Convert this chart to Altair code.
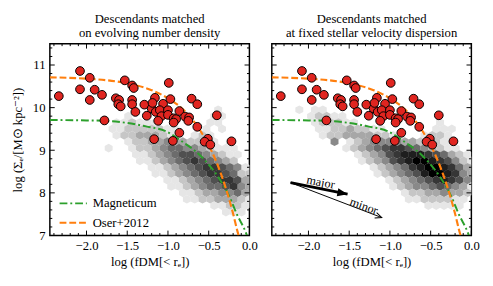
import altair as alt
import pandas as pd

SERIF = "'Liberation Serif', 'Times New Roman', Times, serif"

# ---------------- data ----------------
X_DOMAIN = [-2.45, 0.0]
Y_DOMAIN = [7.0, 11.5]

x_major = [-2.0, -1.5, -1.0, -0.5, 0.0]
x_minor = [-2.4, -2.3, -2.2, -2.1, -1.9, -1.8, -1.7, -1.6, -1.4, -1.3, -1.2, -1.1,
           -0.9, -0.8, -0.7, -0.6, -0.4, -0.3, -0.2, -0.1]
y_major = [7, 8, 9, 10, 11]
y_minor = [7.2, 7.4, 7.6, 7.8, 8.2, 8.4, 8.6, 8.8, 9.2, 9.4, 9.6, 9.8,
           10.2, 10.4, 10.6, 10.8, 11.2, 11.4]

# observed galaxies (red circles, identical in both panels)
obs_x = [-2.34, -2.08, -2.08, -1.96, -1.96, -1.90, -1.81, -1.78, -1.64, -1.60,
         -1.61, -1.58, -1.53, -1.44, -1.42, -1.44, -1.44, -1.40, -1.29, -1.26,
         -1.20, -1.16, -1.19, -1.06, -0.97, -1.15, -1.10, -1.00, -1.08, -1.00,
         -1.12, -0.93, -0.90, -0.93, -0.86, -0.79, -0.74, -0.71, -0.64, -0.75,
         -0.64, -0.86, -1.17, -0.94, -0.51, -0.55, -0.48, -0.40, -0.22, -0.99]
obs_y = [10.27, 10.86, 10.43, 10.70, 10.18, 10.42, 10.30, 9.70, 10.22, 10.18,
         10.08, 10.03, 10.64, 10.52, 10.46, 10.18, 10.08, 9.90, 10.07, 9.81,
         9.98, 10.23, 10.11, 10.09, 10.20, 9.90, 9.94, 9.94, 9.80, 9.83,
         9.69, 9.75, 9.73, 9.65, 9.92, 9.79, 9.77, 10.21, 10.08, 9.69,
         9.55, 9.41, 9.26, 9.22, 9.27, 9.20, 9.13, 9.82, 9.21, 10.58]

# model curves
mag_x = [-2.45, -2.0, -1.75, -1.5, -1.27, -1.03, -0.8, -0.67, -0.55, -0.39, -0.25, -0.15, -0.05, -0.02]
mag_y = [9.71, 9.70, 9.69, 9.64, 9.56, 9.45, 9.17, 8.99, 8.77, 8.39, 7.93, 7.48, 7.10, 6.95]
oser_x = [-2.45, -2.0, -1.5, -1.2, -1.0, -0.8, -0.6, -0.5, -0.4, -0.3, -0.2, -0.15, -0.12, -0.09]
oser_y = [10.71, 10.68, 10.57, 10.41, 10.22, 9.93, 9.45, 9.12, 8.70, 8.17, 7.51, 7.12, 6.91, 6.70]

legend_names = ["Magneticum", "Oser+2012"]

# hexbin density: one string per hex row (top row first), one digit per column
HEX_X0, HEX_DX, HEX_YTOP, HEX_DY = -2.208, 0.096, 9.95, 0.15
hex_left = [
    "000000000000000000010000",
    "000000010000000000110000",
    "000000112111000000110000",
    "000001122222110001010000",
    "000000122333211012100000",
    "000000012233433221101000",
    "000001001223455443211100",
    "000000001123456654321100",
    "000000000112345676543200",
    "000000000011234567765411",
    "000000000001123456776522",
    "000000000000112345677632",
    "000000000000011234556743",
    "000000000000001123344532",
    "000000000000000112233321",
    "000000000000000000112211",
    "000000000000000000001110",
]
hex_right = [
    "010110000000000000000000",
    "001221100000000000000000",
    "000122211000000000010000",
    "000112232211000000111000",
    "000012233332211001221000",
    "000004012344443322211000",
    "000000012345677654321100",
    "000000001234678887653210",
    "000000000123467899876421",
    "000000000012345789987532",
    "000000000001234568998743",
    "000000000000123456787642",
    "000000000000012344565431",
    "000000000000001223343321",
    "000000000000000112222110",
    "000000000000000001111100",
    "000000000000000000000000",
]

# arrows in the right panel
arrow_names = ["major", "minor"]
arrow_x0 = [-2.22, -2.22]
arrow_y0 = [8.24, 8.24]
arrow_x1 = [-1.52, -1.10]
arrow_y1 = [7.97, 7.42]
arrow_angle = [11, 20]
arrow_label_x = [-1.85, -1.32]
arrow_label_y = [8.25, 7.69]

# ---------------- chart ----------------
W, H = 205, 197
XTITLE = "log (fDM[< rₑ])"
YTITLE = "log (Σₑ/[M⊙ kpc⁻²])"

xs = alt.Scale(domain=X_DOMAIN, nice=False, zero=False)
ys = alt.Scale(domain=Y_DOMAIN, nice=False, zero=False)

xaxis = alt.Axis(values=x_major, format=".1f", ticks=False, domain=False, grid=False,
                 labelFont=SERIF, labelFontSize=13, labelColor="black", labelPadding=4,
                 labelFlush=False, title=XTITLE, titleFont=SERIF, titleFontSize=13,
                 titleFontWeight="normal", titleColor="black", titlePadding=4)
yaxis_left = alt.Axis(values=y_major, format="d", ticks=False, domain=False, grid=False,
                      labelFont=SERIF, labelFontSize=13, labelColor="black", labelPadding=5,
                      labelFlush=False, title=YTITLE, titleFont=SERIF, titleFontSize=13,
                      titleFontWeight="normal", titleColor="black", titlePadding=8)


def hex_df(rows):
    recs = []
    for k, row in enumerate(rows):
        yv = HEX_YTOP - HEX_DY * k
        off = HEX_DX / 2 if k % 2 == 1 else 0.0
        for i, ch in enumerate(row):
            lvl = int(ch)
            if lvl > 0:
                recs.append({"x": HEX_X0 + HEX_DX * i + off, "y": yv, "lvl": lvl})
    return pd.DataFrame(recs)


HEX_PATH = "M0,-1L0.91,-0.5L0.91,0.5L0,1L-0.91,0.5L-0.91,-0.5Z"


def panel(rows, title, yaxis, legend=False, arrows=False):
    X = lambda: alt.X("x:Q", scale=xs, axis=xaxis)
    Y = lambda: alt.Y("y:Q", scale=ys, axis=yaxis)
    layers = []
    layers.append(
        alt.Chart(hex_df(rows)).mark_point(shape=HEX_PATH, filled=True, size=80,
                                             opacity=1, strokeWidth=0, clip=True)
        .encode(x=X(), y=Y(),
                color=alt.Color("lvl:Q", legend=None,
                                scale=alt.Scale(domain=[1, 9], range=["#e6e6e6", "#000000"])))
    )
    layers.append(
        alt.Chart(pd.DataFrame({"x": mag_x, "y": mag_y})).mark_line(
            color="#2ca02c", strokeWidth=2, strokeDash=[8, 3, 2, 3], interpolate="monotone", clip=True)
        .encode(x=X(), y=Y())
    )
    layers.append(
        alt.Chart(pd.DataFrame({"x": oser_x, "y": oser_y})).mark_line(
            color="#ff7f0e", strokeWidth=2.2, strokeDash=[7, 3], interpolate="monotone", clip=True)
        .encode(x=X(), y=Y())
    )
    layers.append(
        alt.Chart(pd.DataFrame({"x": obs_x, "y": obs_y})).mark_point(
            shape="circle", filled=True, size=80, fill="#e02520", stroke="black",
            strokeWidth=1, opacity=1)
        .encode(x=X(), y=Y())
    )
    if arrows:
        adf = pd.DataFrame({"name": arrow_names, "x": arrow_x0, "y": arrow_y0,
                            "x2": arrow_x1, "y2": arrow_y1, "ang": arrow_angle,
                            "lx": arrow_label_x, "ly": arrow_label_y})
        for idx, (sw, path, filled, sz) in enumerate([
                (3, "M0,0L-2,-0.8L-2,0.8Z", True, 110),
                (1, "M-2,-0.9L0,0L-2,0.9", False, 45)]):
            one = adf.iloc[[idx]]
            layers.append(alt.Chart(one).mark_rule(color="black", strokeWidth=sw)
                          .encode(x=X(), y=Y(), x2="x2:Q", y2="y2:Q"))
            pt = alt.Chart(one).mark_point(shape=path, filled=filled, size=sz, opacity=1,
                                           color="black", strokeWidth=1)
            layers.append(pt.encode(x=alt.X("x2:Q", scale=xs, axis=xaxis),
                                    y=alt.Y("y2:Q", scale=ys, axis=yaxis),
                                    angle=alt.Angle("ang:Q", scale=None)))
            layers.append(alt.Chart(one).mark_text(font=SERIF, fontSize=12.5, color="black",
                                                   angle=arrow_angle[idx])
                          .encode(x=alt.X("lx:Q", scale=xs, axis=xaxis),
                                  y=alt.Y("ly:Q", scale=ys, axis=yaxis), text="name:N"))
    if legend:
        for idx, (col, dash) in enumerate([("#2ca02c", [8, 3, 2, 3]), ("#ff7f0e", [7, 3])]):
            one = pd.DataFrame({"name": [legend_names[idx]]})
            yy = 164 + 20 * idx
            layers.append(alt.Chart(one).mark_rule(color=col, strokeWidth=2, strokeDash=dash)
                          .encode(x=alt.value(10), x2=alt.value(38), y=alt.value(yy)))
            layers.append(alt.Chart(one).mark_text(font=SERIF, fontSize=13, color="black",
                                                   align="left", baseline="middle")
                          .encode(x=alt.value(44), y=alt.value(yy), text="name:N"))
    # inward ticks on all four sides
    for vals, L in ((x_major, 5), (x_minor, 2.5)):
        base = alt.Chart(pd.DataFrame({"x": vals})).mark_rule(color="black", strokeWidth=1)
        layers.append(base.encode(x=X(), y=alt.value(H), y2=alt.value(H - L)))
        layers.append(base.encode(x=X(), y=alt.value(0), y2=alt.value(L)))
    for vals, L in ((y_major, 5), (y_minor, 2.5)):
        base = alt.Chart(pd.DataFrame({"y": vals})).mark_rule(color="black", strokeWidth=1)
        layers.append(base.encode(y=Y(), x=alt.value(0), x2=alt.value(L)))
        layers.append(base.encode(y=Y(), x=alt.value(W), x2=alt.value(W - L)))
    return alt.layer(*layers).properties(
        width=W, height=H,
        title=alt.TitleParams(title, font=SERIF, fontSize=13, fontWeight="normal",
                              color="black", lineHeight=15, offset=3, anchor="middle"))


left = panel(hex_left, ["Descendants matched", "on evolving number density"], yaxis_left, legend=True)
right = panel(hex_right, ["Descendants matched", "at fixed stellar velocity dispersion"], None, arrows=True)

chart = alt.hconcat(left, right, spacing=12).properties(
    padding={"left": 3, "top": 0, "right": 5, "bottom": 5}
).configure_view(stroke="black", strokeWidth=1.5)

chart.save("out.html", embed_options={"renderer": "svg", "actions": False})
